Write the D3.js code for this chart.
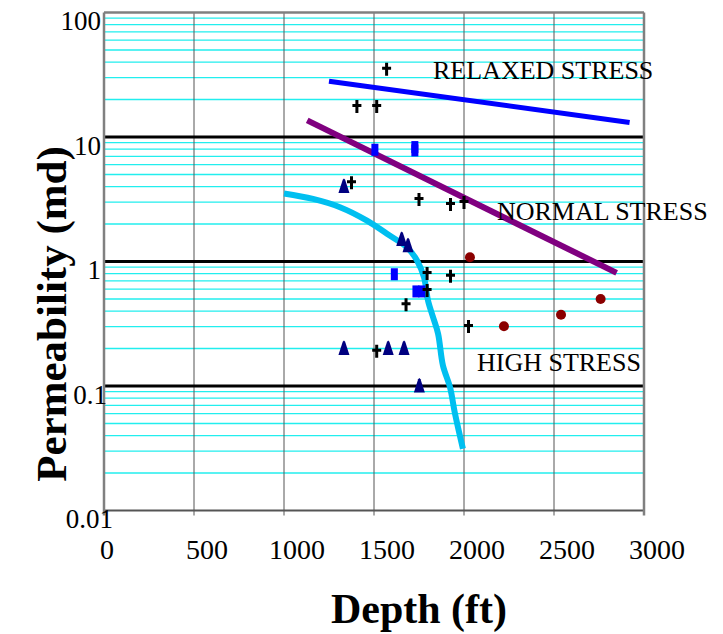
<!DOCTYPE html>
<html>
<head>
<meta charset="utf-8">
<script src="https://cdnjs.cloudflare.com/ajax/libs/d3/7.8.5/d3.min.js"></script>
<style>
  body { margin: 0; background: #fff; }
  text { font-family: "Liberation Serif", "Times New Roman", serif; }
</style>
</head>
<body>
<div id="plot"></div>
<script>
// Data: [depth (ft), permeability (md)]
const crosses = [
  [1570, 35], [1405, 17.6], [1515, 17.6], [1375, 4.3], [1750, 3.15],
  [1925, 2.87], [2000, 2.98], [1795, 0.8], [1925, 0.76], [1795, 0.585],
  [1678, 0.45], [2025, 0.3], [1515, 0.19]
];
const triangles = [
  [1333, 4.0], [1654, 1.5], [1689, 1.34], [1333, 0.2], [1579, 0.2],
  [1667, 0.2], [1752, 0.1]
];
const squares = [
  [1505, 7.9], [1727, 8.3], [1727, 7.8], [1613, 0.79], [1733, 0.575], [1765, 0.575]
];
const circlesData = [[2033, 1.08], [2222, 0.302], [2539, 0.373], [2759, 0.5]];

const relaxedLine = [[1250, 28], [2920, 13.1]];
const normalLine = [[1129, 13.6], [2848, 0.81]];
const highCurve = [
  [1000, 3.52], [1161, 3.18], [1311, 2.73], [1461, 2.13], [1572, 1.67],
  [1683, 1.3], [1739, 1.02], [1778, 0.744], [1800, 0.486], [1828, 0.357],
  [1856, 0.263], [1883, 0.146], [1922, 0.098], [1950, 0.06], [1994, 0.0313]
];

const xTicks = [0, 500, 1000, 1500, 2000, 2500, 3000];
const yTicks = [100, 10, 1, 0.1, 0.01];
const yTickLabels = ["100", "10", "1", "0.1", "0.01"];

const labels = [
  { text: "RELAXED STRESS", depth: 1828, perm: 29.5 },
  { text: "NORMAL STRESS", depth: 2183, perm: 2.15 },
  { text: "HIGH STRESS", depth: 2072, perm: 0.132 }
];

const width = 723, height = 634;

const svg = d3.select("#plot")
  .append("svg")
  .attr("width", width)
  .attr("height", height);

const x = d3.scaleLinear().domain([0, 3000]).range([104, 644]);
const y = d3.scaleLog().domain([0.01, 100]).range([510.5, 12.5]);

const grid = svg.append("g");

// minor cyan lines 2..9 in each decade
const minor = [];
[0.01, 0.1, 1, 10].forEach(d => {
  for (let k = 2; k <= 9; k++) minor.push(d * k);
});
grid.selectAll(".minor")
  .data(minor)
  .enter()
  .append("line")
  .attr("x1", x(0)).attr("x2", x(3000))
  .attr("y1", d => y(d)).attr("y2", d => y(d))
  .attr("stroke", "#22eeee")
  .attr("stroke-width", 1.3);

// vertical grid lines
grid.selectAll(".vgrid")
  .data(xTicks.slice(1, -1))
  .enter()
  .append("line")
  .attr("x1", d => x(d)).attr("x2", d => x(d))
  .attr("y1", y(100)).attr("y2", y(0.01) + 5)
  .attr("stroke", "#555")
  .attr("stroke-width", 1);

// major black lines
grid.selectAll(".major")
  .data([10, 1, 0.1])
  .enter()
  .append("line")
  .attr("x1", x(0)).attr("x2", x(3000))
  .attr("y1", d => y(d)).attr("y2", d => y(d))
  .attr("stroke", "#000")
  .attr("stroke-width", 3);

// frame
grid.append("line")
  .attr("x1", x(0)).attr("x2", x(3000))
  .attr("y1", y(100)).attr("y2", y(100))
  .attr("stroke", "#808080").attr("stroke-width", 2.5);
grid.append("line")
  .attr("x1", x(0)).attr("x2", x(3000))
  .attr("y1", y(0.01)).attr("y2", y(0.01))
  .attr("stroke", "#555").attr("stroke-width", 2);
grid.append("line")
  .attr("x1", x(0)).attr("x2", x(0))
  .attr("y1", y(100)).attr("y2", y(0.01) + 5)
  .attr("stroke", "#808080").attr("stroke-width", 2.5);
grid.append("line")
  .attr("x1", x(3000)).attr("x2", x(3000))
  .attr("y1", y(100)).attr("y2", y(0.01) + 5)
  .attr("stroke", "#808080").attr("stroke-width", 2.5);

// tick labels
svg.selectAll(".xlab")
  .data(xTicks)
  .enter()
  .append("text")
  .attr("x", d => x(d) + (d === 0 ? 3 : 13))
  .attr("y", 559)
  .attr("text-anchor", "middle")
  .style("font-size", "28px")
  .text(d => d);

svg.selectAll(".ylab")
  .data(yTicks)
  .enter()
  .append("text")
  .attr("x", (d, i) => i < 3 ? 101 : (i === 3 ? 107 : 113))
  .attr("y", d => y(d) + 17.5)
  .attr("text-anchor", "end")
  .style("font-size", "27px")
  .text((d, i) => yTickLabels[i]);

// axis titles
svg.append("text")
  .attr("x", 419)
  .attr("y", 623)
  .attr("text-anchor", "middle")
  .style("font-size", "42px")
  .style("font-weight", "bold")
  .text("Depth (ft)");

svg.append("text")
  .attr("transform", "translate(66, 314) rotate(-90)")
  .attr("text-anchor", "middle")
  .style("font-size", "43px")
  .style("font-weight", "bold")
  .text("Permeability (md)");

// stress lines
const line = d3.line().x(d => x(d[0])).y(d => y(d[1]));

svg.append("path")
  .attr("d", line(relaxedLine))
  .attr("fill", "none")
  .attr("stroke", "#0000ff")
  .attr("stroke-width", 5);

svg.append("path")
  .attr("d", line(normalLine))
  .attr("fill", "none")
  .attr("stroke", "#800080")
  .attr("stroke-width", 6);

svg.append("path")
  .attr("d", line.curve(d3.curveCatmullRom)(highCurve))
  .attr("fill", "none")
  .attr("stroke", "#00bff0")
  .attr("stroke-width", 6);

// annotations
svg.selectAll(".ann")
  .data(labels)
  .enter()
  .append("text")
  .attr("x", d => x(d.depth))
  .attr("y", d => y(d.perm))
  .style("font-size", "26px")
  .text(d => d.text);

// markers
svg.selectAll(".sq")
  .data(squares)
  .enter()
  .append("rect")
  .attr("x", d => x(d[0]) - 3.5)
  .attr("y", d => y(d[1]) - 6)
  .attr("width", 7)
  .attr("height", 12)
  .attr("fill", "#0000ff");

svg.selectAll(".tri")
  .data(triangles)
  .enter()
  .append("path")
  .attr("transform", d => `translate(${x(d[0])}, ${y(d[1])})`)
  .attr("d", "M0,-8 L1.2,-6.8 L5.5,6.5 L-5.5,6.5 L-1.2,-6.8 Z")
  .attr("fill", "#000080");

svg.selectAll(".dot")
  .data(circlesData)
  .enter()
  .append("circle")
  .attr("cx", d => x(d[0]))
  .attr("cy", d => y(d[1]))
  .attr("r", 5)
  .attr("fill", "#8b0000");

svg.selectAll(".cross")
  .data(crosses)
  .enter()
  .append("path")
  .attr("transform", d => `translate(${x(d[0])}, ${y(d[1])})`)
  .attr("d", "M0,-6.5 V6.5 M-4.5,-1 H4.5")
  .attr("stroke", "#000")
  .attr("stroke-width", 3)
  .attr("fill", "none");
</script>
</body>
</html>
